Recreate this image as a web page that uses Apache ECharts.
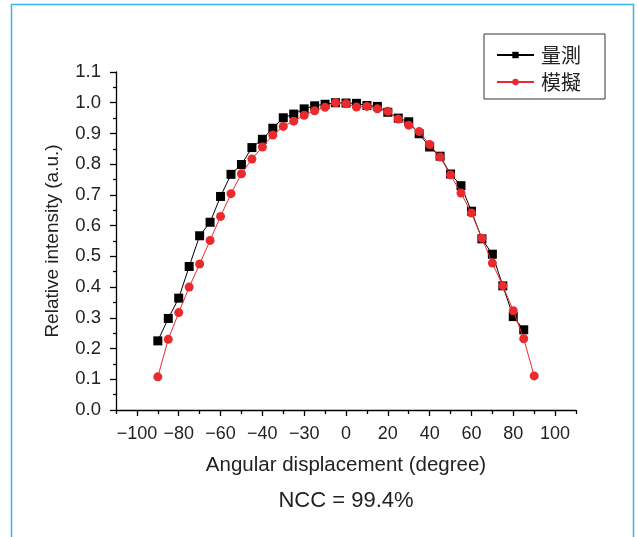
<!DOCTYPE html>
<html>
<head>
<meta charset="utf-8">
<script src="https://cdn.jsdelivr.net/npm/echarts@6/dist/echarts.min.js"></script>
<style>
html, body { margin: 0; padding: 0; background: #fff; }
#main { width: 637px; height: 537px; }
</style>
</head>
<body>
<div id="main"></div>
<script>
// 角度 (degree)
var anglesMeasured = [-90, -85, -80, -75, -70, -65, -60, -55, -50, -45, -40, -35, -30, -25, -20, -15, -10, -5,
    0, 5, 10, 15, 20, 25, 30, 35, 40, 45, 50, 55, 60, 65, 70, 75, 80, 85];
var anglesSimulated = [-90, -85, -80, -75, -70, -65, -60, -55, -50, -45, -40, -35, -30, -25, -20, -15, -10, -5,
    0, 5, 10, 15, 20, 25, 30, 35, 40, 45, 50, 55, 60, 65, 70, 75, 80, 85, 90];
// 量測
var measured = [0.225, 0.298, 0.364, 0.467, 0.567, 0.611, 0.695, 0.767, 0.799, 0.854, 0.881, 0.917, 0.951, 0.963,
    0.980, 0.990, 0.995, 1.000, 0.999, 0.998, 0.991, 0.988, 0.969, 0.950, 0.938, 0.899, 0.856, 0.826, 0.768,
    0.730, 0.647, 0.557, 0.507, 0.404, 0.304, 0.261];
// 模擬
var simulated = [0.108, 0.230, 0.317, 0.400, 0.475, 0.552, 0.630, 0.704, 0.769, 0.817, 0.856, 0.895, 0.923, 0.940,
    0.959, 0.974, 0.985, 1.000, 0.997, 0.986, 0.988, 0.980, 0.972, 0.947, 0.927, 0.906, 0.864, 0.823, 0.765,
    0.706, 0.641, 0.559, 0.478, 0.404, 0.323, 0.232, 0.111];
var majorXTicks = [-100, -80, -60, -40, -20, 0, 20, 40, 60, 80, 100];
var minorXTicks = [-110, -90, -70, -50, -30, -10, 10, 30, 50, 70, 90, 110];
// 原圖標籤 (-20 處標成 −30)
var xTickLabels = ['\u2212100', '\u221280', '\u221260', '\u221240', '\u221230', '0', '20', '40', '60', '80', '100'];
var seriesNames = ['量測', '模擬'];
var noteText = 'NCC = 99.4%';

function pairs(xs, ys) {
    return xs.map(function (x, i) { return [x, ys[i]]; });
}

var font = 'Liberation Sans, Arial, sans-serif';
var cjk = 'Noto Sans CJK TC, sans-serif';

var chart = echarts.init(document.getElementById('main'));
chart.setOption({
    animation: false,
    backgroundColor: '#fff',
    grid: { left: 116, right: 61, top: 72, bottom: 127, containLabel: false },
    legend: {
        orient: 'vertical',
        left: 484,
        top: 34,
        padding: [11, 24, 7, 12],
        borderColor: '#333',
        borderWidth: 1,
        itemWidth: 37,
        itemHeight: 8,
        itemGap: 7,
        textStyle: { fontFamily: cjk, fontSize: 20, color: '#222', padding: [0, 0, 0, 2] },
        data: seriesNames
    },
    xAxis: [{
        type: 'value',
        min: -110,
        max: 110,
        position: 'bottom',
        splitLine: { show: false },
        axisLine: { onZero: false, lineStyle: { color: '#000', width: 1.3 } },
        axisTick: { customValues: majorXTicks, length: 6, lineStyle: { color: '#000', width: 1.3 } },
        axisLabel: {
            customValues: majorXTicks,
            formatter: function (v) { return xTickLabels[majorXTicks.indexOf(v)]; },
            fontFamily: font, fontSize: 18, color: '#222', margin: 15
        },
        name: 'Angular displacement (degree)',
        nameLocation: 'middle',
        nameGap: 45,
        nameTextStyle: { fontFamily: font, fontSize: 20.5, color: '#222' }
    }, {
        type: 'value',
        min: -110,
        max: 110,
        position: 'bottom',
        splitLine: { show: false },
        axisLine: { show: false, onZero: false },
        axisTick: { customValues: minorXTicks, length: 4, lineStyle: { color: '#000', width: 1.3 } },
        axisLabel: { show: false }
    }],
    yAxis: {
        type: 'value',
        min: 0,
        max: 1.1,
        interval: 0.1,
        splitLine: { show: false },
        axisLine: { show: true, onZero: false, lineStyle: { color: '#000', width: 1.3 } },
        axisTick: { show: true, length: 6, lineStyle: { color: '#000', width: 1.3 } },
        minorTick: { show: true, splitNumber: 2, length: 3, lineStyle: { color: '#000', width: 1.3 } },
        axisLabel: {
            formatter: function (v) { return v.toFixed(1); },
            fontFamily: font, fontSize: 18.5, color: '#222', margin: 15
        },
        name: 'Relative intensity (a.u.)',
        nameLocation: 'middle',
        nameGap: 54,
        nameTextStyle: { fontFamily: font, fontSize: 19, color: '#222' }
    },
    graphic: [{
        type: 'rect',
        shape: { x: 11.5, y: 4.5, width: 622, height: 560 },
        style: { fill: 'none', stroke: '#3db5e2', lineWidth: 1.5 },
        silent: true
    }, {
        type: 'text',
        x: 346,
        y: 501,
        style: {
            text: noteText, fontFamily: font, fontSize: 22, fill: '#222',
            textAlign: 'center', textVerticalAlign: 'middle'
        },
        silent: true
    }],
    series: [{
        name: seriesNames[0],
        type: 'line',
        data: pairs(anglesMeasured, measured),
        symbol: 'rect',
        symbolSize: 9,
        itemStyle: { color: '#000' },
        lineStyle: { color: '#000', width: 1 },
        z: 2
    }, {
        name: seriesNames[1],
        type: 'line',
        data: pairs(anglesSimulated, simulated),
        symbol: 'circle',
        symbolSize: 9,
        itemStyle: { color: '#ea2a2d' },
        lineStyle: { color: '#ea2a2d', width: 1 },
        z: 3
    }]
});
</script>
</body>
</html>
